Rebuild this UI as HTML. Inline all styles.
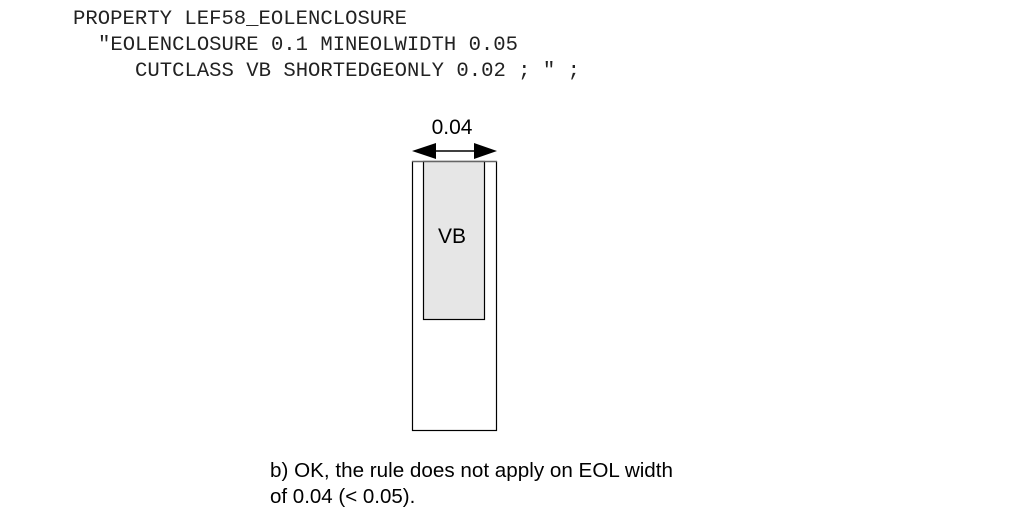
<!DOCTYPE html>
<html><head><meta charset="utf-8"><style>
html,body{margin:0;padding:0;background:#fff;width:1013px;height:532px;overflow:hidden}
</style></head><body>
<svg width="1013" height="532" viewBox="0 0 1013 532" xmlns="http://www.w3.org/2000/svg">
<g font-family="'Liberation Mono', monospace" font-size="20.6" fill="#222">
<text x="73" y="24" textLength="334" lengthAdjust="spacingAndGlyphs">PROPERTY LEF58_EOLENCLOSURE</text>
<text x="98" y="50" textLength="420" lengthAdjust="spacingAndGlyphs">"EOLENCLOSURE 0.1 MINEOLWIDTH 0.05</text>
<text x="135" y="76" textLength="445" lengthAdjust="spacingAndGlyphs">CUTCLASS VB SHORTEDGEONLY 0.02 ; " ;</text>
</g>
<rect x="412.5" y="161.5" width="84" height="269" fill="#fff" stroke="#000" stroke-width="1.2"/>
<rect x="423.5" y="161.5" width="61" height="158" fill="#e6e6e6" stroke="#000" stroke-width="1.2"/>
<line x1="412" y1="161.5" x2="497" y2="161.5" stroke="#666" stroke-width="1.2"/>
<line x1="430" y1="151" x2="480" y2="151" stroke="#000" stroke-width="1.5"/>
<polygon points="412,151 436,143 436,159" fill="#000"/>
<polygon points="497,151 474,143 474,159" fill="#000"/>
<text x="452" y="134" font-family="'Liberation Sans', sans-serif" font-size="21" text-anchor="middle" fill="#000">0.04</text>
<text x="452" y="243" font-family="'Liberation Sans', sans-serif" font-size="21" text-anchor="middle" fill="#000">VB</text>
<g font-family="'Liberation Sans', sans-serif" font-size="20.5" fill="#000">
<text x="270" y="477" textLength="403" lengthAdjust="spacingAndGlyphs">b) OK, the rule does not apply on EOL width</text>
<text x="270" y="503">of 0.04 (&lt; 0.05).</text>
</g>
</svg>
</body></html>
